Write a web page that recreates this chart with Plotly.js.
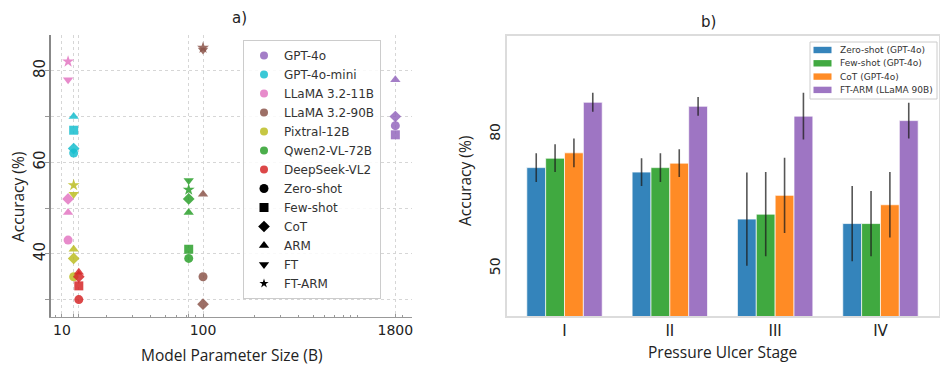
<!DOCTYPE html>
<html>
<head>
<meta charset="utf-8">
<script src="https://cdn.plot.ly/plotly-3.0.1.min.js"></script>
<style>
  body { margin: 0; background: white; }
  #chart { width: 947px; height: 375px; }
</style>
</head>
<body>
<div id="chart"></div>
<script>
// ---- panel a) accuracy vs model size ----
const models = ["GPT-4o", "GPT-4o-mini", "LLaMA 3.2-11B", "LLaMA 3.2-90B", "Pixtral-12B", "Qwen2-VL-72B", "DeepSeek-VL2"];
const modelSizes = [1800, 12, 11, 90, 12, 72, 13];
const modelColors = ["#9467bd", "#17becf", "#e377c2", "#8c564b", "#bcbd22", "#2ca02c", "#d62728"];

const methods = ["Zero-shot", "Few-shot", "CoT", "ARM", "FT", "FT-ARM"];
const methodSymbols = ["circle", "square", "diamond", "triangle-up", "triangle-down", "star"];

// accuracy per model, in the order of `methods` (null = not run)
const accGpt4o = [68, 66, 70, 78, null, null];
const accGpt4oMini = [62, 67, 63, 70, null, null];
const accLlama11 = [43, null, 52, 49, 78, 82];
const accLlama90 = [35, null, 29, 53, 84.5, 85];
const accPixtral = [35, null, 39, 41, 53, 55];
const accQwen = [39, 41, 52, 49, 56, 54];
const accDeepseek = [30, 33, 35, 36, null, null];
const modelAcc = [accGpt4o, accGpt4oMini, accLlama11, accLlama90, accPixtral, accQwen, accDeepseek];

// x ticks as printed on the figure
const sizeTickVals = [10, 12, 13, 72, 90, 1800];
const sizeTickText = ["10", "", "", "", "100", "1800"];
const sizeMinorVals = [9, 20, 30, 40, 50, 60, 70, 80, 200, 300, 400, 500, 600, 700, 800, 900, 1000, 2000];

// ---- panel b) accuracy by pressure ulcer stage ----
const stages = ["I", "II", "III", "IV"];
const zeroShot = [72.5, 71.5, 61.0, 60.0];
const zeroShotErr = [3.2, 3.1, 10.4, 8.4];
const fewShot = [74.6, 72.5, 62.1, 60.0];
const fewShotErr = [3.1, 3.2, 9.4, 7.3];
const cot = [75.8, 73.5, 66.3, 64.2];
const cotErr = [3.2, 3.1, 8.4, 7.3];
const ftArm = [87.1, 86.2, 84.0, 83.0];
const ftArmErr = [2.1, 2.1, 5.2, 4.0];

const barNames = ["Zero-shot (GPT-4o)", "Few-shot (GPT-4o)", "CoT (GPT-4o)", "FT-ARM (LLaMA 90B)"];
const barColors = ["#1f77b4", "#2ca02c", "#ff7f0e", "#9467bd"];

const W = 947, H = 375;
const px = (v) => v / W;
const py = (v) => 1 - v / H;

const tickFont = { family: "DejaVu Sans", size: 14, color: "#222" };
const titleFont = { family: "Open Sans", size: 15.5, color: "#222" };

const traces = [];

// scatter points, one trace per model
models.forEach((m, i) => {
  traces.push({
    type: "scatter",
    mode: "markers",
    x: modelAcc[i].map(() => modelSizes[i]),
    y: modelAcc[i],
    xaxis: "x",
    yaxis: "y",
    showlegend: false,
    hoverinfo: "skip",
    marker: {
      color: modelColors[i],
      symbol: methodSymbols,
      size: 9,
      opacity: 0.85,
      line: { width: 0 }
    }
  });
});

// legend entries: models (colour) then methods (shape)
models.forEach((m, i) => {
  traces.push({
    type: "scatter", mode: "markers", x: [null], y: [null],
    xaxis: "x", yaxis: "y", name: m,
    marker: { color: modelColors[i], symbol: "circle", size: 8, opacity: 0.85 }
  });
});
methods.forEach((m, i) => {
  traces.push({
    type: "scatter", mode: "markers", x: [null], y: [null],
    xaxis: "x", yaxis: "y", name: m,
    marker: { color: "black", symbol: methodSymbols[i], size: methodSymbols[i] === "star" ? 7 : 9 }
  });
});

// bars
[[zeroShot, zeroShotErr], [fewShot, fewShotErr], [cot, cotErr], [ftArm, ftArmErr]].forEach((s, i) => {
  traces.push({
    type: "bar",
    x: stages,
    y: s[0],
    name: barNames[i],
    xaxis: "x2",
    yaxis: "y2",
    showlegend: false,
    marker: { color: barColors[i], opacity: 0.9, line: { color: "rgba(255,255,255,0.7)", width: 1 } },
    error_y: { type: "data", array: s[1], visible: true, color: "rgba(30,30,30,0.75)", thickness: 1.6, width: 0 }
  });
});

// compact legend for panel b), matplotlib-like row spacing
const legShapes = [{
  type: "rect", xref: "paper", yref: "paper",
  x0: px(810), x1: px(937), y0: py(99), y1: py(42),
  fillcolor: "rgba(255,255,255,0.85)", line: { color: "#cccccc", width: 1 }
}];
const legNotes = [];
barNames.forEach((n, i) => {
  const yc = 50 + i * 13.3;
  legShapes.push({
    type: "rect", xref: "paper", yref: "paper",
    x0: px(813.5), x1: px(831.5), y0: py(yc + 3.2), y1: py(yc - 3.2),
    fillcolor: barColors[i], opacity: 0.9, line: { width: 0 }
  });
  legNotes.push({
    text: n, xref: "paper", yref: "paper", x: px(838), y: py(yc),
    xanchor: "left", yanchor: "middle", showarrow: false,
    font: { family: "DejaVu Sans", size: 9, color: "#333" }
  });
});

const note = (text, x, y, font, angle) => ({
  text, xref: "paper", yref: "paper", x: px(x), y: py(y),
  xanchor: "center", yanchor: "middle", showarrow: false,
  textangle: angle || 0, font
});

const layout = {
  width: W,
  height: H,
  margin: { l: 0, r: 0, t: 0, b: 0 },
  paper_bgcolor: "white",
  plot_bgcolor: "white",
  font: { family: "DejaVu Sans", color: "#222" },
  showlegend: true,
  barmode: "group",
  bargap: 0.284,
  bargroupgap: 0,

  xaxis: {
    domain: [px(51), px(412)],
    anchor: "y",
    type: "log",
    range: [Math.log10(8.43), Math.log10(2333)],
    tickmode: "array",
    tickvals: sizeTickVals,
    ticktext: sizeTickText,
    ticks: "inside",
    ticklen: 3,
    tickcolor: "#999",
    tickfont: tickFont,
    showgrid: true,
    gridcolor: "#d6d6d6",
    griddash: "dot",
    showline: true,
    linecolor: "#999",
    linewidth: 1.2,
    zeroline: false,
    minor: { tickmode: "array", tickvals: sizeMinorVals, ticks: "inside", ticklen: 2, tickcolor: "#999", showgrid: false }
  },
  yaxis: {
    domain: [py(317), py(35)],
    anchor: "x",
    range: [26.2, 87.8],
    tickmode: "array",
    tickvals: [40, 60, 80],
    tickangle: -90,
    ticks: "outside",
    ticklen: 4,
    tickcolor: "#999",
    ticklabelstandoff: -6,
    tickfont: { family: "DejaVu Sans", size: 15, color: "#222" },
    showgrid: true,
    gridcolor: "#d6d6d6",
    griddash: "dot",
    showline: true,
    linecolor: "#888",
    linewidth: 1.6,
    zeroline: false,
    minor: { tickmode: "array", tickvals: [30, 50, 70], ticks: "outside", ticklen: 4, tickcolor: "#999", showgrid: true, gridcolor: "#d6d6d6", griddash: "dot" }
  },

  xaxis2: {
    domain: [px(507), px(938.5)],
    anchor: "y2",
    type: "category",
    range: [-0.546, 3.551],
    ticks: "",
    tickfont: { family: "DejaVu Sans", size: 15, color: "#222" },
    showgrid: false,
    showline: true,
    mirror: true,
    linecolor: "#dcdcdc",
    linewidth: 1.6,
    zeroline: false
  },
  yaxis2: {
    domain: [py(316), py(36)],
    anchor: "x2",
    range: [39.35, 101.9],
    tickmode: "array",
    tickvals: [50, 80],
    tickangle: -90,
    ticks: "",
    tickfont: tickFont,
    showgrid: false,
    showline: true,
    mirror: true,
    linecolor: "#dcdcdc",
    linewidth: 1.6,
    zeroline: false
  },

  legend: {
    x: px(243), y: py(40), xanchor: "left", yanchor: "top",
    bgcolor: "rgba(255,255,255,0.85)",
    bordercolor: "#cccccc", borderwidth: 1,
    font: { family: "DejaVu Sans", size: 12, color: "#333" },
    traceorder: "normal"
  },

  shapes: legShapes,
  annotations: [
    note("a)", 239, 18, { family: "DejaVu Sans", size: 15, color: "#222" }),
    note("b)", 708, 22, { family: "DejaVu Sans", size: 15, color: "#222" }),
    note("Model Parameter Size (B)", 231, 355, titleFont),
    note("Accuracy (%)", 18, 197, titleFont, -90),
    note("Pressure Ulcer Stage", 722, 352, titleFont),
    note("Accuracy (%)", 465, 181, titleFont, -90)
  ].concat(legNotes)
};

Plotly.newPlot("chart", traces, layout, { displayModeBar: false, staticPlot: true });
</script>
</body>
</html>
